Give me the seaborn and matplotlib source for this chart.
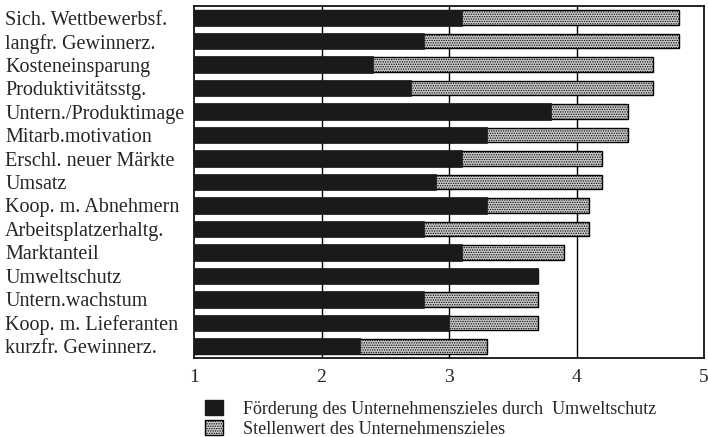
import numpy as np
import pandas as pd
import seaborn as sns
import matplotlib.pyplot as plt
from matplotlib.patches import Patch
from matplotlib.ticker import MultipleLocator

# Data
ziele = ['Sich. Wettbewerbsf.', 'langfr. Gewinnerz.', 'Kosteneinsparung',
         'Produktivitätsstg.', 'Untern./Produktimage', 'Mitarb.motivation',
         'Erschl. neuer Märkte', 'Umsatz', 'Koop. m. Abnehmern',
         'Arbeitsplatzerhaltg.', 'Marktanteil', 'Umweltschutz',
         'Untern.wachstum', 'Koop. m. Lieferanten', 'kurzfr. Gewinnerz.']
foerderung = [3.1, 2.8, 2.4, 2.7, 3.8, 3.3, 3.1, 2.9, 3.3, 2.8, 3.1, 3.7, 2.8, 3.0, 2.3]
stellenwert = [4.8, 4.8, 4.6, 4.6, 4.4, 4.4, 4.2, 4.2, 4.1, 4.1, 3.9, 3.7, 3.7, 3.7, 3.3]

df = pd.DataFrame({'Ziel': ziele, 'Foerderung': foerderung, 'Stellenwert': stellenwert})

sns.set_style('white')
plt.rcParams['font.family'] = ['Liberation Serif', 'DejaVu Serif']
plt.rcParams['hatch.linewidth'] = 0.6
plt.rcParams['hatch.color'] = '#555555'

fig = plt.figure(figsize=(7.08, 4.37), dpi=100)
ax = fig.add_axes([194 / 708, 1 - 358 / 437, 510 / 708, 352 / 437])

# grid lines behind bars
for g in [2, 3, 4]:
    ax.axvline(g, color='black', lw=1.0, zorder=0)

sns.barplot(data=df, x='Stellenwert', y='Ziel', orient='h', color='#c8c8c8',
            edgecolor='black', linewidth=1.0, width=0.62, ax=ax, zorder=2)
for p in ax.patches:
    p.set_hatch('.......')
sns.barplot(data=df, x='Foerderung', y='Ziel', orient='h', color='#1a1a1a',
            edgecolor='#1a1a1a', linewidth=0.5, width=0.7, ax=ax, zorder=3)

ax.set_xlim(1, 5)
ax.set_ylim(len(ziele) - 0.5, -0.5)
ax.set_xlabel('')
ax.set_ylabel('')
ax.xaxis.set_major_locator(MultipleLocator(1))
ax.xaxis.set_minor_locator(MultipleLocator(0.5))
ax.tick_params(axis='x', which='both', direction='in', length=4, width=1,
               labelsize=14, pad=8)
ax.tick_params(axis='x', which='major', length=0)
ax.tick_params(axis='y', length=0, pad=136, labelsize=14.5)
for lab in ax.get_yticklabels():
    lab.set_horizontalalignment('left')
for s in ax.spines.values():
    s.set_visible(True)
    s.set_color('black')
    s.set_linewidth(1.2)

handles = [Patch(facecolor='#1a1a1a', edgecolor='#1a1a1a'),
           Patch(facecolor='#c8c8c8', edgecolor='black', hatch='.......')]
fig.legend(handles, ['Förderung des Unternehmenszieles durch  Umweltschutz',
                     'Stellenwert des Unternehmenszieles'],
           loc='upper left', bbox_to_anchor=(196 / 708, 1 - 391 / 437),
           frameon=False, fontsize=13, handlelength=1.0, handleheight=0.9,
           handletextpad=1.1, labelspacing=0.12, borderpad=0)

fig.savefig('out.png', dpi=100)
